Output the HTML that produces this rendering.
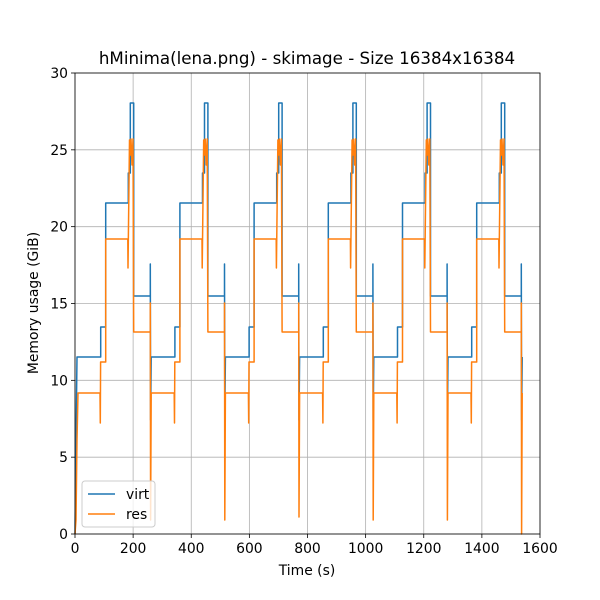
<!DOCTYPE html>
<html><head><meta charset="utf-8"><style>
body{margin:0;background:#fff}
svg{display:block;font-family:"DejaVu Sans","Liberation Sans",sans-serif}
</style></head><body>
<svg id="s" width="600" height="600" xmlns="http://www.w3.org/2000/svg">
<rect width="600" height="600" fill="#fff"/>
<g id="grid" stroke="#b0b0b0" stroke-width="0.8"></g>
<path id="virt" fill="none" stroke="#1f77b4" stroke-width="1.5" stroke-linejoin="round"/>
<path id="res" fill="none" stroke="#ff7f0e" stroke-width="1.5" stroke-linejoin="round"/>
<rect x="75" y="73" width="465" height="461" fill="none" stroke="#000" stroke-width="0.8"/>
<g id="ticks" stroke="#000" stroke-width="0.8"></g>
<g id="labels" font-size="13.9" fill="#000"></g>
<text x="307" y="64" font-size="16.7" text-anchor="middle">hMinima(lena.png) - skimage - Size 16384x16384</text>
<text x="307" y="575" font-size="13.9" text-anchor="middle">Time (s)</text>
<text transform="translate(38,303) rotate(-90)" font-size="13.9" text-anchor="middle">Memory usage (GiB)</text>
<rect x="82" y="481" width="73" height="46" rx="3" fill="#fff" fill-opacity="0.8" stroke="#ccc"/>
<line x1="88" y1="494" x2="115" y2="494" stroke="#1f77b4" stroke-width="1.5"/>
<line x1="88" y1="514" x2="115" y2="514" stroke="#ff7f0e" stroke-width="1.5"/>
<text x="126" y="499" font-size="13.9">virt</text>
<text x="126" y="519" font-size="13.9">res</text>
</svg>
<script>
var L=75,R=540,T=73,B=534,g='',t='',lb='';
for(var i=0;i<=8;i++){var x=L+i*(R-L)/8;g+='<line x1="'+x+'" y1="'+T+'" x2="'+x+'" y2="'+B+'"/>';t+='<line x1="'+x+'" y1="'+B+'" x2="'+x+'" y2="'+(B+4)+'"/>';lb+='<text x="'+x+'" y="'+(B+19)+'" text-anchor="middle">'+(i*200)+'</text>';}
for(var j=0;j<=6;j++){var y=B-j*(B-T)/6;g+='<line x1="'+L+'" y1="'+y+'" x2="'+R+'" y2="'+y+'"/>';t+='<line x1="'+(L-4)+'" y1="'+y+'" x2="'+L+'" y2="'+y+'"/>';lb+='<text x="'+(L-7)+'" y="'+(y+5)+'" text-anchor="end">'+(j*5)+'</text>';}
document.getElementById('grid').innerHTML=g;document.getElementById('ticks').innerHTML=t;document.getElementById('labels').innerHTML=lb;
var P=74.2,v='M75,534 L76,440 L77,357',r='M75,534 L76,520 L77,440 L78,393';
var dips=[520,520,517,520,520,534];
for(var c=0;c<6;c++){var o=77+c*P;function X(d){return (o+d).toFixed(1)}
 if(c>0){v+=' L'+X(0)+',357';r+=' L'+X(0.5)+',393';}
 v+=' L'+X(23.7)+',357 L'+X(23.7)+',327 L'+X(28.7)+',327 L'+X(28.7)+',203 L'+X(51.3)+',203 L'+X(51.3)+',173 L'+X(53.3)+',173 L'+X(53.3)+',103 L'+X(56.7)+',103 L'+X(56.7)+',296 L'+X(73.3)+',296 L'+X(73.3)+',264 L'+X(73.6)+',420 L'+X(74.2)+',357';
 r+=' L'+X(23)+',393 L'+X(23.3)+',423 L'+X(23.6)+',362 L'+X(28.7)+',362 L'+X(28.7)+',239 L'+X(50.8)+',239 L'+X(51)+',268 L'+X(51.4)+',234 L'+X(52.5)+',140 L'+X(53.5)+',155 L'+X(54)+',139 L'+X(55)+',165 L'+X(56)+',139 L'+X(56.7)+',332 L'+X(73.3)+',332 L'+X(73.3)+',303 L'+X(73.6)+','+dips[c]+' L'+X(74.2)+',393';
}
document.getElementById('virt').setAttribute('d',v);document.getElementById('res').setAttribute('d',r);
</script>
</body></html>
